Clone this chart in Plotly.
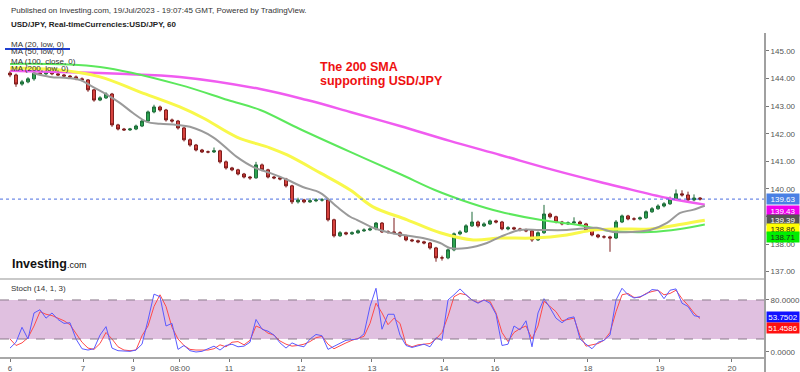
import plotly.graph_objects as go

# ---------------- data ----------------
# 2-hour candles, USD/JPY
O = [144.20, 144.13, 143.80, 143.88, 143.99, 144.20, 144.17, 144.24, 144.17, 144.13,
     144.09, 144.06, 143.99, 143.95, 143.59, 143.22, 143.30, 143.44, 142.32, 142.17,
     142.14, 142.17, 142.28, 142.46, 142.79, 142.97, 142.86, 142.50, 142.46, 142.21,
     141.78, 141.59, 141.41, 141.34, 141.34, 141.38, 140.98, 140.76, 140.69, 140.54,
     140.43, 140.40, 140.87, 140.69, 140.43, 140.40, 140.36, 140.11, 139.53, 139.60,
     139.53, 139.57, 139.60, 139.60, 138.88, 138.30, 138.41, 138.37, 138.41, 138.48,
     138.51, 138.55, 138.76, 138.44, 138.44, 138.41, 138.30, 138.15, 138.12, 138.08,
     138.04, 137.86, 137.50, 137.50, 137.79, 138.37, 138.44, 138.66, 138.80, 138.66,
     138.73, 138.84, 138.80, 138.55, 138.59, 138.55, 138.51, 138.48, 138.15, 138.41,
     139.09, 138.99, 138.80, 138.73, 138.77, 138.80, 138.73, 138.51, 138.33, 138.26,
     138.26, 138.22, 138.80, 139.02, 138.91, 138.91, 138.95, 139.17, 139.28, 139.38,
     139.46, 139.64, 139.82, 139.78, 139.60, 139.67]
H = [144.28, 144.18, 143.95, 144.05, 144.26, 144.25, 144.30, 144.28, 144.21, 144.17,
     144.13, 144.11, 144.04, 143.98, 143.62, 143.36, 143.50, 143.48, 142.36, 142.21,
     142.21, 142.33, 142.52, 142.84, 143.05, 143.02, 142.90, 142.55, 142.50, 142.25,
     141.83, 141.63, 141.45, 141.39, 141.50, 141.42, 141.03, 140.80, 140.73, 140.58,
     140.47, 140.98, 140.92, 140.73, 140.47, 140.44, 140.40, 140.15, 139.68, 139.64,
     139.66, 139.66, 139.67, 139.64, 138.92, 138.47, 138.45, 138.46, 138.53, 138.57,
     138.61, 138.80, 138.80, 138.50, 138.95, 138.46, 138.34, 138.19, 138.16, 138.12,
     138.08, 137.90, 137.58, 137.84, 138.42, 138.50, 138.72, 139.17, 138.85, 138.79,
     138.89, 138.88, 138.84, 138.65, 138.63, 138.59, 138.56, 138.52, 138.46, 139.42,
     139.14, 139.03, 138.84, 138.82, 138.97, 138.85, 138.77, 138.55, 138.37, 138.32,
     138.30, 138.87, 139.07, 139.06, 138.97, 139.00, 139.22, 139.34, 139.44, 139.52,
     139.72, 139.98, 139.95, 139.90, 139.80, 139.70]
L = [144.05, 143.70, 143.74, 143.83, 143.92, 144.12, 144.13, 144.12, 144.09, 144.04,
     144.01, 143.94, 143.90, 143.52, 143.16, 143.18, 143.26, 142.25, 142.12, 142.10,
     142.10, 142.13, 142.24, 142.42, 142.74, 142.80, 142.44, 142.40, 142.15, 141.72,
     141.53, 141.36, 141.30, 141.29, 141.30, 140.92, 140.70, 140.64, 140.49, 140.38,
     140.33, 140.37, 140.64, 140.38, 140.35, 140.31, 140.05, 139.45, 139.47, 139.48,
     139.49, 139.52, 139.54, 138.82, 138.24, 138.26, 138.32, 138.33, 138.37, 138.44,
     138.47, 138.50, 138.40, 138.38, 138.35, 138.25, 138.10, 138.07, 138.03, 137.99,
     137.80, 137.36, 137.40, 137.45, 137.74, 138.32, 138.40, 138.62, 138.60, 138.62,
     138.69, 138.75, 138.50, 138.50, 138.50, 138.46, 138.43, 138.08, 138.11, 138.37,
     138.93, 138.75, 138.68, 138.69, 138.73, 138.68, 138.46, 138.28, 138.21, 138.20,
     137.72, 138.18, 138.76, 138.86, 138.85, 138.86, 138.91, 139.13, 139.24, 139.33,
     139.42, 139.60, 139.72, 139.52, 139.55, 139.58]
C = [144.13, 143.80, 143.88, 143.99, 144.20, 144.17, 144.24, 144.17, 144.13, 144.09,
     144.06, 143.99, 143.95, 143.59, 143.22, 143.30, 143.44, 142.32, 142.17, 142.14,
     142.17, 142.28, 142.46, 142.79, 142.97, 142.86, 142.50, 142.46, 142.21, 141.78,
     141.59, 141.41, 141.34, 141.34, 141.38, 140.98, 140.76, 140.69, 140.54, 140.43,
     140.40, 140.87, 140.69, 140.43, 140.40, 140.36, 140.11, 139.53, 139.60, 139.53,
     139.57, 139.60, 139.60, 138.88, 138.30, 138.41, 138.37, 138.41, 138.48, 138.51,
     138.55, 138.76, 138.44, 138.44, 138.41, 138.30, 138.15, 138.12, 138.08, 138.04,
     137.86, 137.50, 137.50, 137.79, 138.37, 138.44, 138.66, 138.80, 138.66, 138.73,
     138.84, 138.80, 138.55, 138.59, 138.55, 138.51, 138.48, 138.15, 138.41, 139.09,
     138.99, 138.80, 138.73, 138.77, 138.80, 138.73, 138.51, 138.33, 138.26, 138.26,
     138.22, 138.80, 139.02, 138.91, 138.91, 138.95, 139.17, 139.28, 139.38, 139.46,
     139.64, 139.82, 139.78, 139.60, 139.67, 139.63]
bars = list(range(len(C)))

# moving averages (bar position, value)
ma20_bar = [3.8, 6.7, 9.5, 11.7, 13.8, 16.2, 18.3, 20.5, 22.8, 25, 27.8, 30, 33.8, 37.8, 40.5,
            43.3, 46.2, 48.8, 51.7, 54.5, 56.7, 57.8, 60.5, 63.3, 68.8, 71.7, 73.3, 76.2, 79.5,
            81.7, 85, 88.3, 92.8, 97.8, 100.5, 103.8, 106.7, 109.5, 111.7, 113.8, 115.8]
ma20_val = [144.20, 144.06, 144.02, 143.95, 143.70, 143.41, 143.12, 142.75, 142.43, 142.36,
            142.32, 142.25, 141.88, 141.16, 140.80, 140.58, 140.33, 140.07, 139.86, 139.35,
            138.99, 138.88, 138.59, 138.41, 138.22, 138.04, 137.86, 137.86, 138.04, 138.26,
            138.51, 138.51, 138.51, 138.59, 138.44, 138.44, 138.51, 138.77, 139.13, 139.24, 139.39]
ma50_bar = [0, 8.3, 15, 21.7, 28.3, 32.2, 37.8, 43.3, 46.2, 51.7, 56.7, 60.5, 66.2, 71.7, 77.2,
            81.7, 87.2, 92.8, 97.2, 101.7, 106.7, 112.2, 115.8]
ma50_val = [144.38, 144.31, 144.06, 143.51, 142.97, 142.57, 141.88, 141.49, 141.23, 140.58,
            139.96, 139.35, 138.88, 138.41, 138.15, 138.22, 138.22, 138.33, 138.51, 138.55,
            138.55, 138.73, 138.86]
ma100_bar = [0, 15, 28.3, 36.3, 41.7, 48.3, 56.7, 65, 70.8, 76.7, 81.7, 88.3, 94.5, 100,
             106.7, 111.7, 115.8]
ma100_val = [144.53, 144.42, 143.77, 143.22, 142.86, 142.17, 141.34, 140.54, 139.96, 139.49,
             139.17, 138.88, 138.70, 138.48, 138.44, 138.55, 138.71]
ma200_bar = [0, 8.3, 18.3, 28.3, 41.7, 49.5, 56.7, 65, 73.3, 81.7, 90.5, 98.3, 101.7, 109.5, 115.8]
ma200_val = [144.28, 144.24, 144.17, 144.06, 143.62, 143.22, 142.79, 142.28, 141.74, 141.23,
             140.69, 140.25, 140.07, 139.67, 139.43]

# stochastic (14,1,3)
stoch_k = [6, 15, 38, 20, 60, 65, 52, 60, 50, 44,
           45, 20, 5, 3, 5, 26, 39, 6, 2, 2,
           1, 3, 12, 49, 89, 85, 40, 44, 4, 10,
           2, 0, 1, 5, 9, 3, 10, 12, 8, 9,
           15, 50, 35, 32, 26, 14, 6, 14, 10, 8,
           20, 27, 25, 4, 9, 14, 18, 19, 20, 28,
           70, 98, 35, 58, 58, 26, 10, 7, 10, 12,
           8, 22, 18, 80, 88, 97, 88, 80, 75, 80,
           75, 58, 10, 12, 40, 34, 48, 8, 60, 82,
           68, 52, 45, 52, 54, 20, 12, 5, 15, 18,
           26, 80, 98, 88, 83, 85, 89, 96, 95, 82,
           95, 97, 75, 70, 56, 53.7502]
stoch_d = [20, 10, 14, 22, 40, 62, 58, 56, 52, 48,
           42, 28, 15, 6, 4, 13, 30, 20, 8, 3,
           2, 3, 25, 40, 70, 88, 70, 38, 20, 10,
           4, 3, 3, 3, 5, 11, 8, 15, 16, 11,
           18, 40, 36, 29, 26, 17, 12, 9, 10, 12,
           16, 22, 24, 12, 5, 10, 14, 18, 21, 24,
           44, 75, 60, 42, 52, 44, 12, 8, 11, 12,
           13, 20, 30, 55, 85, 90, 88, 80, 76, 80,
           78, 60, 30, 16, 30, 36, 40, 20, 40, 78,
           70, 62, 48, 50, 52, 25, 9, 11, 13, 18,
           30, 62, 88, 90, 84, 84, 90, 93, 95, 88,
           90, 95, 82, 72, 60, 51.4586]

tick_bars = [0, 12.17, 20.5, 28.33, 36.5, 48.5, 60.33, 72.33, 80.83, 96.33, 108.33, 120.33]
tick_text = ["6", "7", "9", "08:00", "11", "12", "13", "14", "16", "18", "19", "20"]
price_ticks = [137, 138, 139, 140, 141, 142, 143, 144, 145]
stoch_ticks = [0, 80]

# ---------------- layout geometry ----------------
W, Hh = 800, 372
ML, MR, MT, MB = 0, 35, 30, 15
PW, PH = W - ML - MR, Hh - MT - MB
split = (357 - 278) / PH

def px(x):
    return (x - ML) / PW

def py(y):
    return (Hh - MB - y) / PH

FONT = "Liberation Sans, Arial, sans-serif"

fig = go.Figure()
fig.add_trace(go.Candlestick(
    x=bars, open=O, high=H, low=L, close=C, xaxis="x", yaxis="y",
    increasing=dict(line=dict(color="#1d6b38", width=1), fillcolor="#2ea652"),
    decreasing=dict(line=dict(color="#7d1b1b", width=1), fillcolor="#d9443f"),
    whiskerwidth=0, showlegend=False, hoverinfo="skip"))

for bx, vals, col, w in [(ma200_bar, ma200_val, "#f05cf0", 2.5),
                         (ma100_bar, ma100_val, "#5ce85c", 2),
                         (ma50_bar, ma50_val, "#f8f84a", 3),
                         (ma20_bar, ma20_val, "#9a9a9a", 2)]:
    fig.add_trace(go.Scatter(x=bx, y=vals, mode="lines", line=dict(color=col, width=w, shape="spline"),
                             xaxis="x", yaxis="y", showlegend=False, hoverinfo="skip"))

fig.add_trace(go.Scatter(x=bars, y=stoch_d, mode="lines", line=dict(color="#ff4a4a", width=1),
                         xaxis="x2", yaxis="y2", showlegend=False, hoverinfo="skip"))
fig.add_trace(go.Scatter(x=bars, y=stoch_k, mode="lines", line=dict(color="#5a5aff", width=1),
                         xaxis="x2", yaxis="y2", showlegend=False, hoverinfo="skip"))

xr = [(0 - 10) / 6, (765 - 10) / 6]
axfont = dict(family=FONT, size=8, color="#555")

fig.update_layout(
    width=W, height=Hh, margin=dict(l=ML, r=MR, t=MT, b=MB),
    paper_bgcolor="white", plot_bgcolor="white", showlegend=False,
    xaxis=dict(domain=[0, 1], anchor="y", range=xr, showticklabels=False, showgrid=False,
               zeroline=False, showline=True, linecolor="#c9c9c9", linewidth=2, ticks="",
               rangeslider=dict(visible=False)),
    yaxis=dict(domain=[split, 1], anchor="x", side="right", range=[136.77, 145.76],
               tickvals=price_ticks, tickformat=".2f", ticks="outside", ticklen=3,
               tickcolor="#777", showgrid=False, zeroline=False, showline=False, tickfont=axfont),
    xaxis2=dict(domain=[0, 1], anchor="y2", range=xr, matches="x", tickvals=tick_bars,
                ticktext=tick_text, ticks="outside", ticklen=3, tickcolor="#777",
                showgrid=False, zeroline=False, showline=True, linecolor="#a8a8a8",
                linewidth=1.5, tickfont=axfont, rangeslider=dict(visible=False)),
    yaxis2=dict(domain=[0, split], anchor="x2", side="right", range=[-7.7, 113.8],
                tickvals=stoch_ticks, tickformat=".4f", ticks="outside", ticklen=3,
                tickcolor="#777", showgrid=False, zeroline=False, showline=False, tickfont=axfont),
)

shapes = [
    dict(type="rect", xref="paper", yref="y2", x0=0, x1=1, y0=20, y1=80,
         fillcolor="#e0c0e0", line=dict(width=0), layer="below"),
    dict(type="line", xref="paper", yref="y2", x0=0, x1=1, y0=80, y1=80,
         line=dict(color="#8a7a8a", width=1, dash="dash")),
    dict(type="line", xref="paper", yref="y2", x0=0, x1=1, y0=20, y1=20,
         line=dict(color="#8a7a8a", width=1, dash="dash")),
    dict(type="line", xref="paper", yref="y", x0=0, x1=1, y0=C[-1], y1=C[-1],
         line=dict(color="#4a6ee0", width=1, dash="dot")),
    dict(type="line", xref="paper", yref="paper", x0=1, x1=1, y0=py(372), y1=py(33),
         line=dict(color="#a0a0a0", width=2)),
    dict(type="line", xref="paper", yref="paper", x0=px(5), x1=px(70), y0=py(49), y1=py(49),
         line=dict(color="#1f3fd0", width=2)),
]
fig.update_layout(shapes=shapes)

ann = []
def txt(x, y, s, size=8, color="#333", bold=False, anchor="left"):
    ann.append(dict(xref="paper", yref="paper", x=px(x), y=py(y), text=("<b>%s</b>" % s) if bold else s,
                    showarrow=False, xanchor=anchor, yanchor="middle",
                    font=dict(family=FONT, size=size, color=color)))

txt(9, 10, "Published on Investing.com, 19/Jul/2023 - 19:07:45 GMT, Powered by TradingView.", 8, "#333")
txt(9, 24, "USD/JPY, Real-timeCurrencies:USD/JPY, 60", 8, "#222", bold=True)
txt(9, 44, "MA (20, low, 0)", 8, "#333")
txt(9, 52, "MA (50, low, 0)", 8, "#333")
txt(9, 61, "MA (100, close, 0)", 8, "#333")
txt(9, 69, "MA (200, low, 0)", 8, "#333")
txt(318, 67, "The 200 SMA", 12.5, "#ee1111", bold=True)
txt(318, 81, "supporting USD/JPY", 12.5, "#ee1111", bold=True)
txt(9, 288, "Stoch (14, 1, 3)", 8, "#333")
ann.append(dict(xref="paper", yref="paper", x=px(10), y=py(264), xanchor="left", yanchor="middle",
                showarrow=False,
                text="<b>Investing</b><span style='font-size:9px'>.com</span>",
                font=dict(family=FONT, size=12.5, color="#111")))

def tag(yref, value, fmt, bg, fg, shift):
    ann.append(dict(xref="paper", yref=yref, x=1, y=value, xanchor="left", yanchor="middle",
                    xshift=1, yshift=shift, showarrow=False, text=fmt % value, bgcolor=bg,
                    width=31, height=9, borderpad=0.5, align="center",
                    font=dict(family=FONT, size=8, color=fg)))

tag("y", C[-1], "%.2f", "#4a80e4", "white", 0)
tag("y", ma200_val[-1], "%.2f", "#ee00ee", "white", -6)
tag("y", ma20_val[-1], "%.2f", "#555555", "white", -14)
tag("y", ma50_val[-1], "%.2f", "#ffff00", "#222", -9)
tag("y", ma100_val[-1], "%.2f", "#00ee00", "#222", -13)
tag("y2", stoch_k[-1], "%.4f", "#1010ff", "white", 0)
tag("y2", stoch_d[-1], "%.4f", "#ff1010", "white", -9)

fig.update_layout(annotations=ann)
fig.write_html("out.html", config={"displayModeBar": False, "staticPlot": True},
               post_script="document.body.style.margin='0';document.body.style.overflow='hidden';")
